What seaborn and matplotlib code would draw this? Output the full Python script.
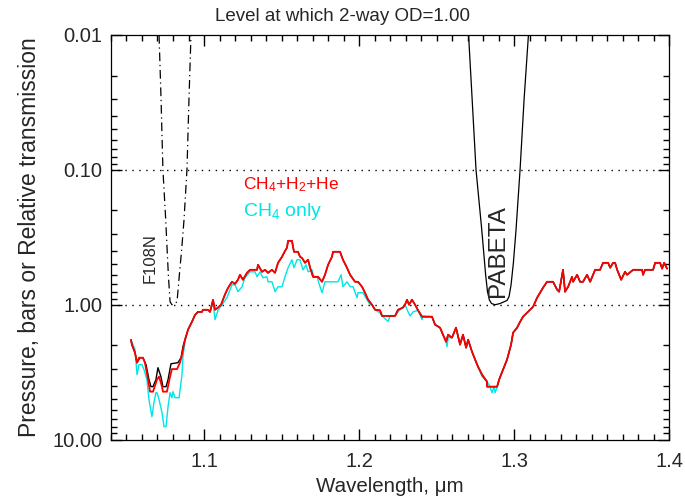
import numpy as np
import pandas as pd
import matplotlib
matplotlib.use('Agg')
import matplotlib.pyplot as plt
import seaborn as sns

# spectrum, CH4+H2+He (red)
red_wl = [1.0529, 1.0535, 1.0555, 1.0568, 1.0581, 1.0606, 1.0619, 1.0639, 1.0652, 1.0671,
          1.0697, 1.0710, 1.0729, 1.0735, 1.0761, 1.0781, 1.0793, 1.0826, 1.0845, 1.0858,
          1.0877, 1.0897, 1.0922, 1.0942, 1.0961, 1.0987, 1.0993, 1.1026, 1.1039, 1.1058,
          1.1071, 1.1090, 1.1110, 1.1135, 1.1155, 1.1180, 1.1200, 1.1219, 1.1232, 1.1251,
          1.1277, 1.1297, 1.1342, 1.1348, 1.1374, 1.1393, 1.1413, 1.1438, 1.1458, 1.1477,
          1.1503, 1.1522, 1.1535, 1.1542, 1.1567, 1.1580, 1.1606, 1.1619, 1.1632, 1.1651,
          1.1671, 1.1684, 1.1703, 1.1735, 1.1761, 1.1780, 1.1800, 1.1825, 1.1832, 1.1877,
          1.1896, 1.1922, 1.1942, 1.1974, 1.1993, 1.2019, 1.2038, 1.2058, 1.2083, 1.2103,
          1.2135, 1.2148, 1.2232, 1.2251, 1.2283, 1.2296, 1.2309, 1.2322, 1.2341, 1.2361,
          1.2380, 1.2406, 1.2470, 1.2490, 1.2522, 1.2541, 1.2561, 1.2574, 1.2599, 1.2625,
          1.2651, 1.2670, 1.2690, 1.2703, 1.2728, 1.2748, 1.2767, 1.2793, 1.2825, 1.2825,
          1.2890, 1.2903, 1.2928, 1.2954, 1.2980, 1.2993, 1.3019, 1.3038, 1.3057, 1.3083,
          1.3103, 1.3122, 1.3148, 1.3167, 1.3186, 1.3212, 1.3251, 1.3277, 1.3290, 1.3315,
          1.3328, 1.3348, 1.3373, 1.3380, 1.3406, 1.3425, 1.3444, 1.3470, 1.3490, 1.3522,
          1.3554, 1.3573, 1.3606, 1.3619, 1.3638, 1.3651, 1.3664, 1.3690, 1.3715, 1.3728,
          1.3767, 1.3825, 1.3831, 1.3844, 1.3896, 1.3909, 1.3941, 1.3954, 1.3967, 1.3986]
red_p = [1.82, 1.98, 2.27, 2.69, 2.47, 2.47, 2.69, 3.59, 4.41, 4.41,
         3.59, 3.41, 4.05, 4.41, 4.41, 3.41, 3.00, 3.00, 2.69, 2.35,
         1.82, 1.53, 1.34, 1.19, 1.13, 1.13, 1.09, 1.09, 1.13, 0.92,
         1.09, 1.05, 1.00, 0.84, 0.75, 0.676, 0.70, 0.653, 0.60, 0.653,
         0.58, 0.551, 0.551, 0.506, 0.57, 0.551, 0.58, 0.551, 0.58, 0.49,
         0.441, 0.40, 0.378, 0.336, 0.336, 0.405, 0.405, 0.441, 0.45, 0.489,
         0.464, 0.532, 0.621, 0.621, 0.676, 0.60, 0.506, 0.441, 0.405, 0.405,
         0.464, 0.532, 0.60, 0.676, 0.676, 0.736, 0.815, 0.918, 1.00, 1.089,
         1.10, 1.21, 1.21, 1.09, 1.05, 1.00, 0.918, 1.00, 0.918, 1.00,
         1.10, 1.227, 1.227, 1.406, 1.48, 1.668, 1.88, 1.668, 1.755, 1.48,
         1.977, 1.668, 2.083, 1.816, 2.229, 2.55, 2.88, 3.30, 3.72, 4.05,
         4.05, 3.59, 3.03, 2.55, 1.977, 1.612, 1.48, 1.34, 1.227, 1.146,
         1.089, 1.035, 0.887, 0.815, 0.748, 0.676, 0.676, 0.774, 0.801, 0.551,
         0.801, 0.736, 0.621, 0.676, 0.60, 0.676, 0.676, 0.60, 0.676, 0.551,
         0.551, 0.489, 0.489, 0.532, 0.489, 0.489, 0.551, 0.653, 0.57, 0.60,
         0.551, 0.551, 0.60, 0.551, 0.551, 0.489, 0.489, 0.54, 0.489, 0.54]

# black curve where it departs from the red one
black_wl = [1.0529, 1.0535, 1.0555, 1.0568, 1.0587, 1.0606, 1.0626, 1.0645, 1.0658, 1.0671,
            1.0690, 1.0703, 1.0722, 1.0735, 1.0755, 1.0768, 1.0787, 1.0832, 1.0852, 1.0864,
            1.0877]
black_p = [1.82, 1.98, 2.27, 2.69, 2.47, 2.47, 2.78, 3.59, 4.05, 4.05,
           3.59, 2.93, 3.41, 4.05, 4.05, 3.59, 2.74, 2.69, 2.47, 2.05,
           1.82]

# CH4 only (cyan)
cyan_wl = [1.0535, 1.0555, 1.0568, 1.0581, 1.0600, 1.0613, 1.0632, 1.0645, 1.0664, 1.0677,
           1.0690, 1.0697, 1.0710, 1.0729, 1.0742, 1.0755, 1.0768, 1.0781, 1.0793, 1.0800,
           1.0813, 1.0839, 1.0858, 1.0864, 1.0877, 1.0897, 1.0922, 1.0942, 1.0961, 1.0987,
           1.0993, 1.1026, 1.1039, 1.1058, 1.1071, 1.1090, 1.1103, 1.1148, 1.1180, 1.1200,
           1.1219, 1.1245, 1.1264, 1.1297, 1.1329, 1.1342, 1.1361, 1.1380, 1.1406, 1.1413,
           1.1438, 1.1458, 1.1477, 1.1503, 1.1522, 1.1542, 1.1567, 1.1580, 1.1600, 1.1619,
           1.1638, 1.1658, 1.1671, 1.1696, 1.1709, 1.1729, 1.1748, 1.1761, 1.1780, 1.1825,
           1.1864, 1.1884, 1.1896, 1.1922, 1.1942, 1.1961, 1.1987, 1.1993, 1.2025, 1.2051,
           1.2071, 1.2083, 1.2103, 1.2135, 1.2148, 1.2187, 1.2200, 1.2232, 1.2251, 1.2296,
           1.2316, 1.2329, 1.2348, 1.2380, 1.2406, 1.2412, 1.2470, 1.2490, 1.2522, 1.2541,
           1.2561, 1.2567, 1.2574, 1.2599, 1.2625, 1.2651, 1.2670, 1.2690, 1.2703, 1.2728,
           1.2748, 1.2767, 1.2793, 1.2825, 1.2844, 1.2857, 1.2870, 1.2877, 1.2890, 1.2903]
cyan_p = [1.88, 2.15, 3.30, 2.78, 2.78, 3.03, 3.59, 5.05, 6.76, 5.32,
          4.49, 4.49, 5.05, 6.31, 8.01, 8.01, 5.70, 4.49, 4.89, 4.41,
          4.89, 4.89, 3.30, 2.43, 1.88, 1.53, 1.34, 1.19, 1.13, 1.13,
          1.09, 1.09, 1.13, 0.95, 1.29, 1.10, 1.05, 0.887, 0.711, 0.711,
          0.80, 0.736, 0.631, 0.57, 0.57, 0.621, 0.57, 0.631, 0.621, 0.676,
          0.676, 0.801, 0.736, 0.736, 0.621, 0.532, 0.464, 0.532, 0.464, 0.464,
          0.551, 0.506, 0.57, 0.551, 0.621, 0.621, 0.736, 0.815, 0.676, 0.676,
          0.676, 0.60, 0.736, 0.676, 0.736, 0.736, 0.887, 0.815, 0.815, 0.918,
          1.00, 1.00, 1.089, 1.15, 1.21, 1.33, 1.21, 1.21, 1.13, 1.00,
          1.13, 1.21, 1.13, 1.10, 1.29, 1.21, 1.227, 1.406, 1.48, 1.668,
          1.88, 2.05, 1.75, 1.755, 1.48, 1.977, 1.668, 2.083, 1.816, 2.229,
          2.55, 2.88, 3.41, 3.72, 4.05, 4.49, 4.05, 4.49, 4.05, 3.59]

# filter transmission curves
f108n_wl = [1.0710, 1.0723, 1.0735, 1.0753, 1.0770, 1.0781, 1.0793, 1.0813, 1.0826, 1.0841,
            1.0855, 1.0871, 1.0890, 1.0903, 1.0916]
f108n_t = [0.01, 0.03, 0.10, 0.235, 0.60, 0.95, 1.00, 0.98, 0.95, 0.60,
           0.40, 0.235, 0.10, 0.03, 0.01]
pabeta_wl = [1.2706, 1.2729, 1.2754, 1.2791, 1.2816, 1.2828, 1.2840, 1.2854, 1.2877, 1.2909,
             1.2935, 1.2954, 1.2967, 1.2980, 1.2995, 1.3012, 1.3038, 1.3064, 1.3092]
pabeta_t = [0.01, 0.03, 0.10, 0.278, 0.60, 0.80, 0.92, 0.98, 1.00, 0.98,
            0.95, 0.93, 0.87, 0.711, 0.489, 0.278, 0.10, 0.03, 0.01]

y_ticks = [0.01, 0.1, 1.0, 10.0]
y_ticklabels = ['0.01', '0.10', '1.00', '10.00']
x_ticks = [1.1, 1.2, 1.3, 1.4]

sns.set_theme(style='ticks')
plt.rcParams['font.family'] = ['Liberation Sans', 'DejaVu Sans']
plt.rcParams['mathtext.fontset'] = 'custom'
plt.rcParams['mathtext.rm'] = 'Liberation Sans'
plt.rcParams['mathtext.it'] = 'Liberation Sans'

red = pd.DataFrame({'wl': red_wl, 'p': red_p})
black = pd.concat([pd.DataFrame({'wl': black_wl, 'p': black_p}),
                   red[red['wl'] > max(black_wl)]], ignore_index=True)
cyan = pd.concat([pd.DataFrame({'wl': cyan_wl, 'p': cyan_p}),
                  red[red['wl'] > max(cyan_wl)]], ignore_index=True)

fig, ax = plt.subplots(figsize=(6.85, 4.99), dpi=100)
fig.subplots_adjust(left=0.162, right=0.977, top=0.930, bottom=0.119)

ax.set_yscale('log')
ax.axhline(0.1, color='black', ls=(0, (1, 4)), lw=1.0)
ax.axhline(1.0, color='black', ls=(0, (1, 4)), lw=1.0)

sns.lineplot(data=cyan, x='wl', y='p', sort=False, estimator=None, color='#00e5e5', lw=1.0, ax=ax)
sns.lineplot(data=black, x='wl', y='p', sort=False, estimator=None, color='black', lw=1.0, ax=ax)
sns.lineplot(data=red, x='wl', y='p', sort=False, estimator=None, color='red', lw=1.3, ax=ax)
sns.lineplot(x=f108n_wl, y=f108n_t, sort=False, estimator=None, color='black', lw=0.9,
             linestyle=(0, (7, 3, 1, 3)), ax=ax)
sns.lineplot(x=pabeta_wl, y=pabeta_t, sort=False, estimator=None, color='black', lw=0.9, ax=ax)

ax.text(1.0652, 0.449, 'F108N', rotation=90, ha='center', va='center', fontsize=12)
ax.text(1.2893, 0.40, 'PABETA', rotation=90, ha='center', va='center', fontsize=17.5)
ax.text(1.1251, 0.129, 'CH$_4$+H$_2$+He', color='red', ha='left', va='center', fontsize=12.5)
ax.text(1.1251, 0.205, 'CH$_4$ only', color='#00e5e5', ha='left', va='center', fontsize=14)

ax.set_xlim(1.04, 1.4)
ax.set_ylim(10, 0.01)
ax.set_xticks(x_ticks)
ax.set_xticklabels([str(v) for v in x_ticks])
ax.set_xticks(np.arange(1.04, 1.4001, 0.01), minor=True)
ax.set_yticks(y_ticks)
ax.set_yticklabels(y_ticklabels)
ax.tick_params(which='both', direction='in', top=True, right=True, bottom=True, left=True,
               labelsize=14.5, color='black')
ax.tick_params(which='major', length=8, width=1.0)
ax.tick_params(which='minor', length=4, width=1.0)
ax.tick_params(axis='x', pad=9)
ax.tick_params(axis='y', pad=6)
for s in ax.spines.values():
    s.set_linewidth(0.9)
    s.set_color('black')

fig.text(0.5, 0.966, 'Level at which 2-way OD=1.00', ha='center', va='center', fontsize=13.5)
ax.set_xlabel('Wavelength, \u03bcm', fontsize=14.8, labelpad=4)
ax.set_ylabel('Pressure, bars or Relative transmission', fontsize=16.5, labelpad=8)

plt.savefig('out.png', dpi=100)
